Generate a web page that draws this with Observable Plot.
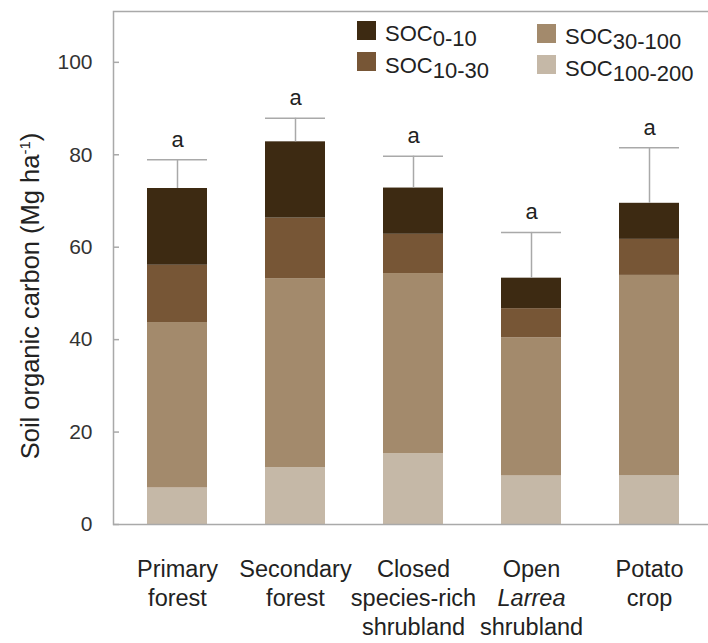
<!DOCTYPE html>
<html>
<head>
<meta charset="utf-8">
<script src="https://cdn.jsdelivr.net/npm/d3@7"></script>
<script src="https://cdn.jsdelivr.net/npm/@observablehq/plot@0.6"></script>
<style>
  html, body { margin: 0; padding: 0; background: #fff; overflow: hidden; }
  #wrap { position: relative; width: 708px; height: 643px; font-family: "Liberation Sans", Arial, sans-serif; color: #222; }
  #ylabel { position: absolute; left: 30px; top: 296px; transform: translate(-50%, -50%) rotate(-90deg); white-space: nowrap; font-size: 25.5px; }
  #ylabel sup { font-size: 15px; vertical-align: 9px; }
  .leg { position: absolute; font-size: 22px; white-space: nowrap; line-height: 1; }
  .leg .sw { position: absolute; width: 19px; height: 19px; }
  .leg sub { font-size: 22px; vertical-align: -5px; }
</style>
</head>
<body>
<div id="wrap"></div>
<script>
// ---- data ----
const categories = ["Primary forest", "Secondary forest", "Closed species-rich shrubland", "Open Larrea shrubland", "Potato crop"];
const xLabelLines = [["Primary", "forest"], ["Secondary", "forest"], ["Closed", "species-rich", "shrubland"], ["Open", "Larrea", "shrubland"], ["Potato", "crop"]];
const italicLine = [null, null, null, 1, null];
const layerNames = ["SOC100-200", "SOC30-100", "SOC10-30", "SOC0-10"]; // bottom to top
const layerBase = ["SOC", "SOC", "SOC", "SOC"];
const layerSub = ["100-200", "30-100", "10-30", "0-10"];
const soc100_200 = [7.9, 12.3, 15.3, 10.5, 10.6];
const soc30_100 = [35.8, 40.9, 39.0, 29.9, 43.3];
const soc10_30 = [12.4, 13.1, 8.5, 6.3, 7.8];
const soc0_10 = [16.6, 16.5, 10.0, 6.6, 7.8];
const errorUpper = [6.2, 5.1, 6.9, 9.9, 12.0];
const letters = ["a", "a", "a", "a", "a"];
const yTicks = [0, 20, 40, 60, 80, 100];
const layerColors = ["#c5b8a7", "#a38a6c", "#775636", "#3d2a12"];
const yDomain = [0, 111];

// ---- build tables ----
const layerValues = [soc100_200, soc30_100, soc10_30, soc0_10];
const stacked = [];
categories.forEach((c, i) => {
  layerNames.forEach((l, j) => stacked.push({cat: c, layer: l, value: layerValues[j][i]}));
});
const totals = categories.map((c, i) => {
  const total = layerValues.reduce((s, arr) => s + arr[i], 0);
  return {cat: c, total, cap: total + errorUpper[i], letter: letters[i]};
});
const labelRows = categories.map((c, i) => ({
  cat: c,
  normal: xLabelLines[i].map((t, k) => k === italicLine[i] ? "\u00a0" : t).join("\n"),
  italic: italicLine[i] == null ? null : xLabelLines[i].map((t, k) => k === italicLine[i] ? t : "\u00a0").join("\n")
}));

const grey = "#a9a9a9";
const fs = 23.5;
const lh = 1.234;

const chart = Plot.plot({
  width: 708,
  height: 643,
  marginLeft: 113,
  marginRight: 0,
  marginTop: 11,
  marginBottom: 119,
  style: {fontFamily: "Liberation Sans, Arial, sans-serif", color: "#222", background: "#fff", overflow: "hidden"},
  x: {domain: categories, range: [118, 709], paddingInner: 0.488, paddingOuter: 0.244, axis: null},
  y: {domain: yDomain, axis: null},
  color: {domain: layerNames, range: layerColors},
  marks: [
    Plot.barY(stacked, {x: "cat", y: "value", fill: "layer"}),
    Plot.ruleX(totals, {x: "cat", y1: "total", y2: "cap", stroke: grey, strokeWidth: 1.5}),
    Plot.tickY(totals, {x: "cat", y: "cap", stroke: grey, strokeWidth: 1.5}),
    Plot.text(totals, {x: "cat", y: "cap", text: "letter", dy: -20, fontSize: 22, fill: "#222"}),
    Plot.frame({stroke: grey, strokeWidth: 1.5, insetRight: -3}),
    Plot.axisY(yTicks, {tickSize: -6, tickPadding: 27, fontSize: 21, stroke: grey, strokeWidth: 1.5, label: null, fill: "#333"}),
    Plot.text(labelRows, {x: "cat", y: 0, text: "normal", lineAnchor: "top", dy: 32, fontSize: fs, lineHeight: lh, fill: "#222"}),
    Plot.text(labelRows.filter(d => d.italic), {x: "cat", y: 0, text: "italic", lineAnchor: "top", dy: 32, fontSize: fs, lineHeight: lh, fill: "#222", fontStyle: "italic"})
  ]
});

const wrap = document.getElementById("wrap");
wrap.appendChild(chart);

// y axis title
const yl = document.createElement("div");
yl.id = "ylabel";
yl.innerHTML = "Soil organic carbon (Mg ha<sup>-1</sup>)";
wrap.appendChild(yl);

// legend (two columns) – order as in reference
const legendOrder = [3, 2, 1, 0]; // SOC0-10, SOC10-30, SOC30-100, SOC100-200
const legendPos = [
  {sx: 357, sy: 21, tx: 385, ty: 23},
  {sx: 357, sy: 52, tx: 385, ty: 55},
  {sx: 537, sy: 24, tx: 565, ty: 26},
  {sx: 537, sy: 55, tx: 565, ty: 58}
];
legendOrder.forEach((li, k) => {
  const p = legendPos[k];
  const box = document.createElement("div");
  box.className = "leg";
  box.innerHTML = "<div class='sw'></div>";
  box.firstChild.style.left = p.sx + "px";
  box.firstChild.style.top = p.sy + "px";
  box.firstChild.style.background = layerColors[li];
  box.style.left = "0px"; box.style.top = "0px";
  wrap.appendChild(box);
  const t = document.createElement("div");
  t.className = "leg";
  t.style.left = p.tx + "px"; t.style.top = p.ty + "px";
  t.innerHTML = layerBase[li] + "<sub>" + layerSub[li] + "</sub>";
  wrap.appendChild(t);
});
</script>
</body>
</html>
